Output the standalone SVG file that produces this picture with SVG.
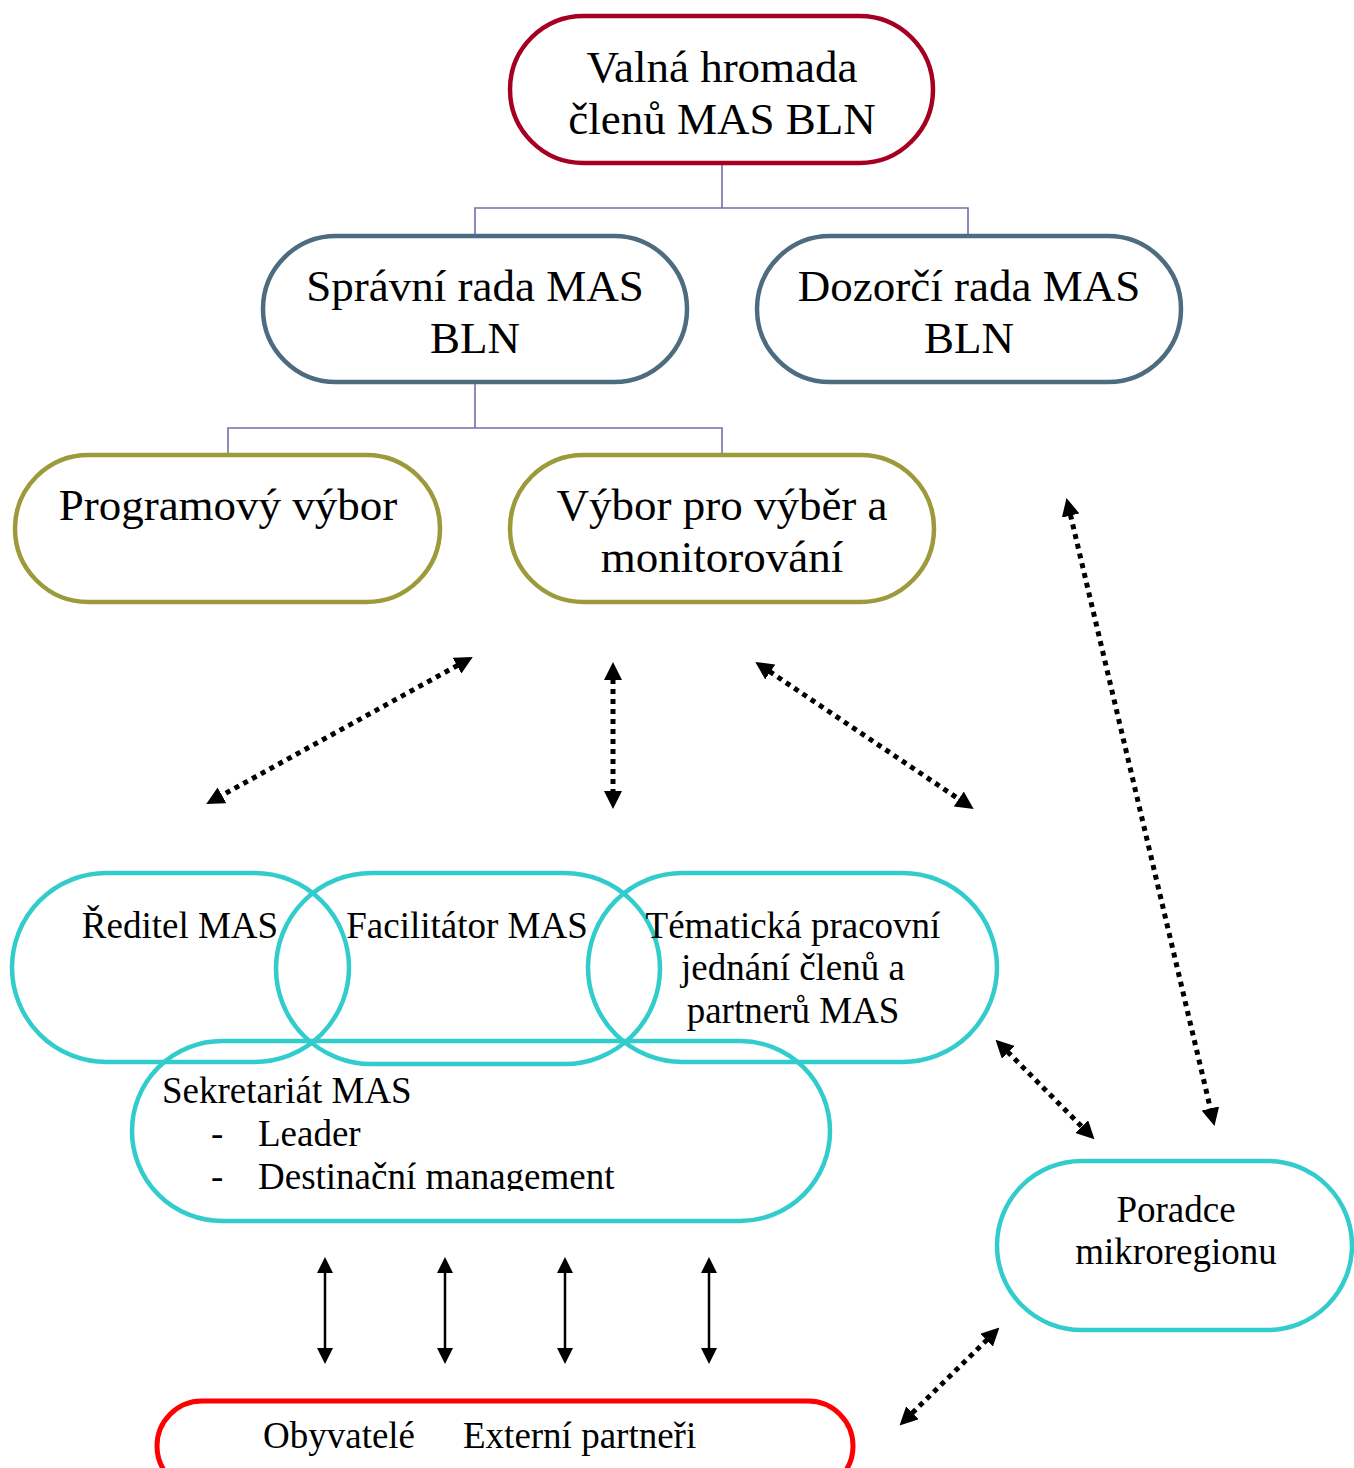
<svg xmlns="http://www.w3.org/2000/svg" width="1354" height="1468" viewBox="0 0 1354 1468">
<style>
text{font-family:"Liberation Serif","Times New Roman",serif;fill:#000}
.big{font-size:45px;text-anchor:middle}
.mid{font-size:37px;text-anchor:middle}
.lft{font-size:37px}
.red{fill:none;stroke:#A50021;stroke-width:4.5}
.slate{fill:none;stroke:#4D6C80;stroke-width:4.5}
.olive{fill:none;stroke:#9C9A3A;stroke-width:4.5}
.teal{fill:none;stroke:#33CCCC;stroke-width:4.5}
.bright{fill:none;stroke:#FF0000;stroke-width:5}
.tree{fill:none;stroke:#7070A8;stroke-width:1.6}
.dot{fill:none;stroke:#000;stroke-width:5;stroke-dasharray:5 5;marker-start:url(#ah);marker-end:url(#ah)}
.sol{fill:none;stroke:#000;stroke-width:2.5;marker-start:url(#sh);marker-end:url(#sh)}
</style>
<defs>
<marker id="ah" viewBox="0 0 18 18" markerWidth="18" markerHeight="18" refX="1" refY="9" orient="auto-start-reverse" markerUnits="userSpaceOnUse"><path d="M0,0 L18,9 L0,18 z" fill="#000"/></marker>
<marker id="sh" viewBox="0 0 16 16" markerWidth="16" markerHeight="16" refX="1" refY="8" orient="auto-start-reverse" markerUnits="userSpaceOnUse"><path d="M0,0 L16,8 L0,16 z" fill="#000"/></marker>
<clipPath id="sekclip"><rect x="130" y="1040" width="700" height="151"/></clipPath>
</defs>
<rect width="1354" height="1468" fill="#fff"/>

<g id="connectors">
<path class="tree" d="M722,163 V208 M475,236 V208 H968 V236"/>
<path class="tree" d="M475,382 V428 M228,455 V428 H722 V455"/>
<line class="dot" x1="457.9" y1="665.2" x2="221.1" y2="795.8"/>
<line class="dot" x1="613" y1="679" x2="613" y2="792"/>
<line class="dot" x1="769.4" y1="671.4" x2="959.6" y2="799.6"/>
<line class="dot" x1="1070.4" y1="514.6" x2="1210.6" y2="1109.4"/>
<line class="dot" x1="1007.5" y1="1051.7" x2="1082.5" y2="1127.3"/>
<line class="dot" x1="987.3" y1="1339.5" x2="911.7" y2="1413.5"/>
<line class="sol" x1="325" y1="1272" x2="325" y2="1349"/>
<line class="sol" x1="445" y1="1272" x2="445" y2="1349"/>
<line class="sol" x1="565" y1="1272" x2="565" y2="1349"/>
<line class="sol" x1="709" y1="1272" x2="709" y2="1349"/>
</g>

<g id="valna">
<rect class="red" x="510" y="16" width="423" height="147" rx="73.5"/>
<text class="big" x="722" y="82">Valná hromada</text>
<text class="big" x="722" y="134">členů MAS BLN</text>
</g>
<g id="spravni">
<rect class="slate" x="263" y="236" width="424" height="146" rx="73"/>
<text class="big" x="475" y="301">Správní rada MAS</text>
<text class="big" x="475" y="353">BLN</text>
</g>
<g id="dozorci">
<rect class="slate" x="757" y="236" width="424" height="146" rx="73"/>
<text class="big" x="969" y="301">Dozorčí rada MAS</text>
<text class="big" x="969" y="353">BLN</text>
</g>
<g id="programovy">
<rect class="olive" x="15" y="455" width="425" height="147" rx="73.5"/>
<text class="big" x="228" y="520">Programový výbor</text>
</g>
<g id="vybor">
<rect class="olive" x="510" y="455" width="424" height="147" rx="73.5"/>
<text class="big" x="722" y="520">Výbor pro výběr a</text>
<text class="big" x="722" y="572">monitorování</text>
</g>

<g id="reditel">
<rect class="teal" x="12" y="873" width="337" height="189" rx="94.5"/>
<text class="mid" x="180" y="938">Ředitel MAS</text>
</g>
<g id="facilitator">
<rect class="teal" x="276" y="873" width="384" height="191" rx="95.5"/>
<text class="mid" x="467" y="938">Facilitátor MAS</text>
</g>
<g id="tematicka">
<rect class="teal" x="588" y="873" width="409" height="189" rx="94.5"/>
<text class="mid" x="793" y="938">Tématická pracovní</text>
<text class="mid" x="793" y="980">jednání členů a</text>
<text class="mid" x="793" y="1023">partnerů MAS</text>
</g>
<g id="sekretariat">
<rect class="teal" x="132" y="1041" width="698" height="180" rx="90"/>
<g clip-path="url(#sekclip)">
<text class="lft" x="162" y="1103">Sekretariát MAS</text>
<text class="lft" x="211" y="1146">-</text>
<text class="lft" x="258" y="1146">Leader</text>
<text class="lft" x="211" y="1189">-</text>
<text class="lft" x="258" y="1189">Destinační management</text>
</g>
</g>
<g id="poradce">
<rect class="teal" x="997" y="1161" width="355" height="169" rx="84.5"/>
<text class="mid" x="1176" y="1222">Poradce</text>
<text class="mid" x="1176" y="1264">mikroregionu</text>
</g>
<g id="obyvatele">
<rect class="bright" x="157" y="1401" width="696" height="90" rx="45"/>
<text class="lft" y="1448"><tspan x="263">Obyvatelé</tspan><tspan x="463">Externí partneři</tspan></text>
</g>
</svg>
